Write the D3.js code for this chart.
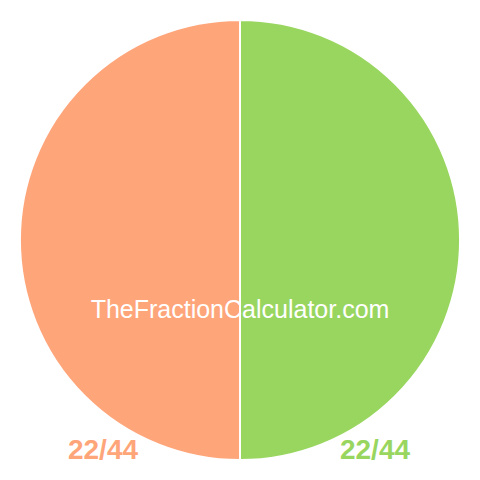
<!DOCTYPE html>
<html>
<head>
<meta charset="utf-8">
<script src="https://cdn.jsdelivr.net/npm/d3@7"></script>
<style>
  body { margin: 0; background: #fff; }
</style>
</head>
<body>
<div id="chart"></div>
<script>
const labels = ["22/44", "22/44"];
const values = [22, 22];
const colors = ["#99d65f", "#ffa57a"];

const width = 480, height = 480, radius = 220;

const svg = d3.select("#chart").append("svg")
    .attr("width", width)
    .attr("height", height);

const g = svg.append("g")
    .attr("transform", `translate(${width / 2}, ${height / 2})`);

const data = values.map((v, i) => ({ label: labels[i], value: v, color: colors[i] }));

const pie = d3.pie().value(d => d.value).sort(null);
const arc = d3.arc().innerRadius(0).outerRadius(radius);

g.selectAll("path")
    .data(pie(data))
    .enter().append("path")
    .attr("d", arc)
    .attr("fill", d => d.data.color)
    .attr("stroke", "#fff")
    .attr("stroke-width", 2);

// watermark
svg.append("text")
    .attr("x", width / 2)
    .attr("y", 318)
    .attr("text-anchor", "middle")
    .attr("font-family", "Liberation Sans, Arial, sans-serif")
    .attr("font-size", 25)
    .attr("fill", "#fff")
    .text("TheFractionCalculator.com");

// fraction labels below the pie
const labelX = [375, 103];
svg.selectAll("text.label")
    .data(data)
    .enter().append("text")
    .attr("class", "label")
    .attr("x", (d, i) => labelX[i])
    .attr("y", 459)
    .attr("text-anchor", "middle")
    .attr("font-family", "Liberation Sans, Arial, sans-serif")
    .attr("font-weight", "bold")
    .attr("font-size", 28)
    .attr("fill", d => d.color)
    .text(d => d.label);
</script>
</body>
</html>
